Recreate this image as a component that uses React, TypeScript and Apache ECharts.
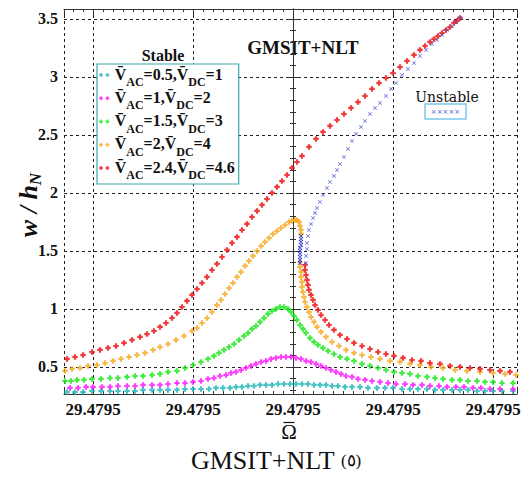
import React, { useEffect, useRef } from "react";
import * as echarts from "echarts";

// Frequency axis: Ω = OMEGA_CENTER + σ·OMEGA_STEP, σ being the detuning in axis units
const OMEGA_CENTER = 29.4795;
const OMEGA_STEP = 1e-5;

const V_AC = [0.5, 1, 1.5, 2, 2.4];
const V_DC = [1, 2, 3, 4, 4.6];
const STABLE_COLORS = ["#1cb4b4", "#ff10ff", "#10e810", "#f5a81c", "#ee0a0a"];
const UNSTABLE_COLOR = "#4455d6";
const UNSTABLE_DENSE_COLOR = "#1e22cc";

// Stable branches, [σ, w/h_N]
const stableAc05: [number, number][] = [
  [-2.26, 0.284], [-2.18, 0.284], [-2.1, 0.284], [-2.01, 0.293], [-1.92, 0.293], [-1.83, 0.293],
  [-1.75, 0.293], [-1.66, 0.293], [-1.58, 0.293], [-1.5, 0.302], [-1.41, 0.302], [-1.33, 0.302],
  [-1.25, 0.302], [-1.16, 0.302], [-1.08, 0.31], [-1.0, 0.31], [-0.92, 0.31], [-0.84, 0.31],
  [-0.77, 0.319], [-0.7, 0.319], [-0.63, 0.319], [-0.57, 0.328], [-0.51, 0.328], [-0.45, 0.336],
  [-0.39, 0.336], [-0.33, 0.345], [-0.27, 0.345], [-0.21, 0.345], [-0.15, 0.353], [-0.09, 0.353],
  [-0.03, 0.353], [0.03, 0.353], [0.09, 0.353], [0.15, 0.353], [0.21, 0.345], [0.27, 0.345],
  [0.33, 0.345], [0.39, 0.336], [0.45, 0.336], [0.52, 0.328], [0.59, 0.328], [0.67, 0.328],
  [0.75, 0.319], [0.84, 0.319], [0.92, 0.319], [1.0, 0.319], [1.09, 0.31], [1.17, 0.31],
  [1.25, 0.31], [1.34, 0.31], [1.42, 0.302], [1.5, 0.302], [1.59, 0.302], [1.67, 0.302],
  [1.75, 0.302], [1.84, 0.293], [1.92, 0.293], [2.0, 0.293], [2.09, 0.293], [2.2, 0.293],
];

const stableAc1: [number, number][] = [
  [-2.23, 0.319], [-2.15, 0.319], [-2.07, 0.328], [-2.0, 0.328], [-1.91, 0.328], [-1.83, 0.328],
  [-1.75, 0.336], [-1.66, 0.336], [-1.58, 0.336], [-1.5, 0.345], [-1.41, 0.345], [-1.33, 0.345],
  [-1.25, 0.353], [-1.16, 0.362], [-1.08, 0.362], [-1.0, 0.371], [-0.92, 0.379], [-0.85, 0.397],
  [-0.79, 0.405], [-0.73, 0.422], [-0.67, 0.431], [-0.62, 0.448], [-0.57, 0.457], [-0.52, 0.474],
  [-0.47, 0.491], [-0.42, 0.509], [-0.37, 0.526], [-0.32, 0.543], [-0.27, 0.552], [-0.22, 0.569],
  [-0.17, 0.578], [-0.12, 0.586], [-0.07, 0.586], [-0.02, 0.586], [0.03, 0.578], [0.08, 0.569],
  [0.13, 0.552], [0.18, 0.543], [0.23, 0.526], [0.28, 0.509], [0.33, 0.491], [0.38, 0.474],
  [0.43, 0.457], [0.48, 0.44], [0.53, 0.422], [0.59, 0.414], [0.65, 0.397], [0.72, 0.388],
  [0.79, 0.379], [0.87, 0.371], [0.95, 0.362], [1.03, 0.353], [1.12, 0.353], [1.2, 0.345],
  [1.29, 0.345], [1.37, 0.336], [1.46, 0.336], [1.54, 0.328], [1.63, 0.328], [1.71, 0.328],
  [1.8, 0.319], [1.88, 0.319], [1.97, 0.31], [2.07, 0.31], [2.2, 0.31],
];

const stableAc15: [number, number][] = [
  [-2.28, 0.379], [-2.22, 0.379], [-2.16, 0.388], [-2.09, 0.388], [-2.01, 0.397], [-1.92, 0.397],
  [-1.83, 0.405], [-1.75, 0.405], [-1.66, 0.414], [-1.58, 0.422], [-1.5, 0.422], [-1.41, 0.431],
  [-1.33, 0.44], [-1.25, 0.457], [-1.16, 0.466], [-1.08, 0.491], [-1.0, 0.517], [-0.92, 0.543],
  [-0.85, 0.569], [-0.79, 0.595], [-0.74, 0.621], [-0.69, 0.647], [-0.64, 0.672], [-0.59, 0.698],
  [-0.54, 0.733], [-0.49, 0.767], [-0.45, 0.793], [-0.41, 0.828], [-0.37, 0.853], [-0.33, 0.888],
  [-0.29, 0.922], [-0.25, 0.957], [-0.21, 0.983], [-0.17, 1.0], [-0.13, 1.017], [-0.09, 1.017],
  [-0.05, 1.0], [-0.02, 0.974], [0.01, 0.94], [0.04, 0.905], [0.07, 0.862], [0.1, 0.828],
  [0.13, 0.793], [0.17, 0.75], [0.21, 0.716], [0.25, 0.69], [0.3, 0.664], [0.35, 0.638],
  [0.41, 0.612], [0.47, 0.586], [0.54, 0.569], [0.61, 0.552], [0.69, 0.526], [0.77, 0.509],
  [0.85, 0.491], [0.93, 0.474], [1.01, 0.457], [1.09, 0.448], [1.17, 0.44], [1.25, 0.422],
  [1.34, 0.414], [1.42, 0.405], [1.5, 0.397], [1.59, 0.388], [1.67, 0.388], [1.75, 0.379],
  [1.84, 0.379], [1.92, 0.371], [2.0, 0.371], [2.09, 0.362], [2.2, 0.362],
];

const stableAc2: [number, number][] = [
  // upper branch up to the fold
  [-2.28, 0.466], [-2.21, 0.483], [-2.13, 0.491], [-2.05, 0.509], [-1.96, 0.517], [-1.88, 0.534],
  [-1.8, 0.552], [-1.72, 0.569], [-1.64, 0.586], [-1.56, 0.603], [-1.48, 0.621], [-1.4, 0.647],
  [-1.33, 0.672], [-1.25, 0.698], [-1.17, 0.733], [-1.09, 0.767], [-1.01, 0.81], [-0.96, 0.836],
  [-0.91, 0.879], [-0.86, 0.922], [-0.81, 0.974], [-0.76, 1.034], [-0.72, 1.078], [-0.68, 1.129],
  [-0.64, 1.181], [-0.6, 1.224], [-0.56, 1.276], [-0.52, 1.319], [-0.48, 1.371], [-0.44, 1.414],
  [-0.4, 1.457], [-0.36, 1.5], [-0.32, 1.543], [-0.28, 1.578], [-0.24, 1.612], [-0.2, 1.647],
  [-0.16, 1.672], [-0.12, 1.698], [-0.08, 1.724], [-0.04, 1.75], [-0.01, 1.759], [0.02, 1.767],
  [0.04, 1.767], [0.06, 1.75], [0.07, 1.716], [0.08, 1.681], [0.08, 1.647],
  // lower branch after the jump
  [0.07, 1.405], [0.07, 1.362], [0.08, 1.319], [0.08, 1.276], [0.09, 1.233], [0.09, 1.19],
  [0.1, 1.147], [0.11, 1.103], [0.12, 1.06], [0.14, 1.017], [0.16, 0.974], [0.18, 0.931],
  [0.21, 0.888], [0.24, 0.845], [0.28, 0.802], [0.33, 0.759], [0.39, 0.716], [0.46, 0.681],
  [0.53, 0.647], [0.61, 0.621], [0.69, 0.603], [0.78, 0.586], [0.87, 0.569], [0.97, 0.552],
  [1.07, 0.543], [1.17, 0.526], [1.27, 0.517], [1.38, 0.5], [1.5, 0.491], [1.62, 0.474],
  [1.74, 0.466], [1.87, 0.457], [2.0, 0.448], [2.12, 0.44], [2.23, 0.431],
];

const stableAc24: [number, number][] = [
  // upper branch
  [-2.26, 0.569], [-2.18, 0.586], [-2.1, 0.603], [-2.01, 0.629], [-1.93, 0.647], [-1.85, 0.664],
  [-1.77, 0.681], [-1.69, 0.707], [-1.61, 0.733], [-1.53, 0.759], [-1.46, 0.784], [-1.39, 0.81],
  [-1.33, 0.845], [-1.27, 0.879], [-1.21, 0.922], [-1.16, 0.966], [-1.11, 1.017], [-1.06, 1.069],
  [-1.01, 1.121], [-0.96, 1.172], [-0.91, 1.224], [-0.86, 1.276], [-0.81, 1.336], [-0.76, 1.388],
  [-0.71, 1.448], [-0.66, 1.509], [-0.61, 1.569], [-0.56, 1.621], [-0.51, 1.681], [-0.46, 1.733],
  [-0.41, 1.793], [-0.36, 1.845], [-0.31, 1.897], [-0.26, 1.948], [-0.21, 2.0], [-0.16, 2.052],
  [-0.11, 2.103], [-0.06, 2.155], [-0.01, 2.216], [0.04, 2.267], [0.09, 2.319], [0.16, 2.397],
  [0.23, 2.466], [0.3, 2.526], [0.37, 2.578], [0.44, 2.629], [0.51, 2.681], [0.58, 2.733],
  [0.65, 2.784], [0.72, 2.836], [0.79, 2.897], [0.86, 2.948], [0.93, 2.991], [1.0, 3.034],
  [1.07, 3.086], [1.14, 3.138], [1.21, 3.19], [1.27, 3.233], [1.32, 3.267], [1.37, 3.302],
  [1.41, 3.328], [1.45, 3.353], [1.49, 3.379], [1.53, 3.405], [1.57, 3.431], [1.61, 3.466],
  [1.64, 3.483], [1.67, 3.509],
  // lower branch
  [0.12, 1.379], [0.12, 1.336], [0.13, 1.293], [0.14, 1.25], [0.15, 1.207], [0.16, 1.164],
  [0.18, 1.121], [0.2, 1.078], [0.22, 1.034], [0.25, 0.991], [0.28, 0.948], [0.32, 0.905],
  [0.36, 0.862], [0.41, 0.819], [0.47, 0.776], [0.54, 0.741], [0.61, 0.707], [0.69, 0.681],
  [0.77, 0.655], [0.85, 0.629], [0.93, 0.612], [1.01, 0.595], [1.1, 0.578], [1.19, 0.56],
  [1.28, 0.552], [1.37, 0.534], [1.47, 0.526], [1.57, 0.509], [1.67, 0.5], [1.77, 0.491],
  [1.87, 0.483], [1.97, 0.474], [2.07, 0.466], [2.17, 0.457],
];

// Unstable branches, [σ, w/h_N]
const unstableAc2: [number, number][] = [
  [0.08, 1.629], [0.08, 1.603], [0.08, 1.578], [0.08, 1.552], [0.07, 1.526],
  [0.07, 1.5], [0.07, 1.474], [0.07, 1.448], [0.07, 1.422], [0.07, 1.397],
];

const unstableAc24: [number, number][] = [
  [0.13, 1.397], [0.13, 1.457], [0.14, 1.517], [0.14, 1.569], [0.15, 1.629], [0.16, 1.681],
  [0.18, 1.733], [0.2, 1.784], [0.22, 1.828], [0.24, 1.871], [0.27, 1.922], [0.3, 1.983],
  [0.34, 2.043], [0.37, 2.095], [0.41, 2.147], [0.44, 2.198], [0.47, 2.25], [0.51, 2.31],
  [0.55, 2.379], [0.59, 2.448], [0.63, 2.509], [0.68, 2.569], [0.72, 2.621], [0.77, 2.681],
  [0.82, 2.733], [0.87, 2.776], [0.93, 2.836], [0.98, 2.897], [1.03, 2.948], [1.09, 3.017],
  [1.15, 3.069], [1.21, 3.121], [1.27, 3.181], [1.33, 3.233], [1.39, 3.284], [1.44, 3.319],
  [1.49, 3.362], [1.54, 3.405], [1.59, 3.44], [1.63, 3.474], [1.67, 3.509],
];

const STABLE_DATA = [stableAc05, stableAc1, stableAc15, stableAc2, stableAc24];

// Heavy plus marker, a pair of them for the legend, and a cross for unstable points
const PLUS = "path://M1.5,0h2v1.5h1.5v2h-1.5v1.5h-2v-1.5h-1.5v-2h1.5z";
const PLUS_PAIR =
  "path://M1.5,0h2v1.5h1.5v2h-1.5v1.5h-2v-1.5h-1.5v-2h1.5zM9.5,0h2v1.5h1.5v2h-1.5v1.5h-2v-1.5h-1.5v-2h1.5z";
const CROSS =
  "path://M0,0.7L0.7,0L2.5,1.8L4.3,0L5,0.7L3.2,2.5L5,4.3L4.3,5L2.5,3.2L0.7,5L0,4.3L1.8,2.5Z";

const SERIF = "'Liberation Serif', 'Times New Roman', serif";
const BAR = "\u0304";

const X_MIN = -2.29;
const X_MAX = 2.24;
const Y_MIN = 0.267;
const Y_MAX = 3.586;

export default function App() {
  const ref = useRef<HTMLDivElement>(null);

  useEffect(() => {
    if (!ref.current) return;
    const chart = echarts.init(ref.current, undefined, { renderer: "svg" });

    const names = V_AC.map((ac, i) => `VAC=${ac}, VDC=${V_DC[i]}`);

    const axisLine = { show: true, lineStyle: { color: "#333", width: 1 } };
    const tick = { show: true, inside: true, length: 6, lineStyle: { color: "#333" } };

    const stableSeries = STABLE_DATA.map((data, i) => ({
      name: names[i],
      type: "scatter",
      data,
      symbol: PLUS,
      symbolSize: 5.5,
      itemStyle: { color: STABLE_COLORS[i] },
      z: 2,
    }));

    const option = {
      animation: false,
      backgroundColor: "#fff",
      grid: { left: 64, right: 7, top: 9, bottom: 85 },
      xAxis: [
        {
          type: "value",
          min: X_MIN,
          max: X_MAX,
          splitNumber: 5,
          position: "bottom",
          axisLine,
          axisTick: tick,
          minorTick: { show: true, splitNumber: 10, length: 3, lineStyle: { color: "#333" } },
          splitLine: { show: true, lineStyle: { type: [3, 3], color: "#222", width: 1 } },
          axisLabel: {
            formatter: (v: number) => (OMEGA_CENTER + v * OMEGA_STEP).toFixed(4),
            fontFamily: SERIF,
            fontWeight: "bold",
            fontSize: 17,
            color: "#111",
            margin: 7,
            showMinLabel: false,
            showMaxLabel: false,
          },
        },
        {
          type: "value",
          min: X_MIN,
          max: X_MAX,
          splitNumber: 5,
          position: "top",
          axisLine,
          axisTick: tick,
          minorTick: { show: true, splitNumber: 10, length: 3, lineStyle: { color: "#333" } },
          splitLine: { show: false },
          axisLabel: { show: false },
        },
      ],
      yAxis: [
        {
          type: "value",
          min: Y_MIN,
          max: Y_MAX,
          splitNumber: 5,
          position: "left",
          axisLine,
          axisTick: tick,
          minorTick: { show: true, splitNumber: 5, length: 3, lineStyle: { color: "#333" } },
          splitLine: { show: true, lineStyle: { type: [3, 3], color: "#222", width: 1 } },
          axisLabel: {
            fontFamily: SERIF,
            fontWeight: "bold",
            fontSize: 16,
            color: "#111",
            margin: 6,
            showMinLabel: false,
            showMaxLabel: false,
          },
        },
        {
          type: "value",
          min: Y_MIN,
          max: Y_MAX,
          splitNumber: 5,
          position: "right",
          axisLine,
          axisTick: tick,
          minorTick: { show: true, splitNumber: 5, length: 3, lineStyle: { color: "#333" } },
          splitLine: { show: false },
          axisLabel: { show: false },
        },
      ],
      legend: {
        orient: "vertical",
        left: 97,
        top: 64,
        data: names,
        icon: PLUS_PAIR,
        itemWidth: 11,
        itemHeight: 4,
        itemGap: 1.25,
        padding: [2, 4, 3, 2],
        borderColor: "#3aa8a8",
        borderWidth: 1.2,
        backgroundColor: "#fff",
        selectedMode: false,
        formatter: (name: string) => {
          const i = names.indexOf(name);
          return `{v|V${BAR}}{s|AC}{v|=${V_AC[i]},V${BAR}}{s|DC}{v|=${V_DC[i]}}`;
        },
        textStyle: {
          rich: {
            v: {
              fontFamily: SERIF,
              fontWeight: "bold",
              fontSize: 16,
              lineHeight: 18,
              verticalAlign: "top",
              color: "#111",
            },
            s: {
              fontFamily: SERIF,
              fontWeight: "bold",
              fontSize: 12,
              lineHeight: 13,
              padding: [10, 0, 0, 0],
              verticalAlign: "top",
              color: "#111",
            },
          },
        },
      },
      graphic: [
        {
          type: "text",
          x: 163,
          y: 55,
          style: {
            text: "Stable",
            font: `bold 16px ${SERIF}`,
            fill: "#111",
            textAlign: "center",
            textVerticalAlign: "middle",
          },
        },
        {
          type: "text",
          x: 303,
          y: 47,
          style: {
            text: "GMSIT+NLT",
            font: `bold 19px ${SERIF}`,
            fill: "#111",
            textAlign: "center",
            textVerticalAlign: "middle",
          },
        },
        {
          type: "text",
          x: 447,
          y: 97,
          style: {
            text: "Unstable",
            font: "14px 'DejaVu Serif', serif",
            fill: "#111",
            textAlign: "center",
            textVerticalAlign: "middle",
          },
        },
        {
          type: "rect",
          shape: { x: 425, y: 104, width: 41, height: 15 },
          style: { fill: "#fff", stroke: "#7cc8ee", lineWidth: 1.5 },
        },
        {
          type: "text",
          x: 445.5,
          y: 111.5,
          style: {
            text: "\u00d7\u00d7\u00d7\u00d7\u00d7",
            font: "7px 'DejaVu Sans', sans-serif",
            fill: UNSTABLE_COLOR,
            textAlign: "center",
            textVerticalAlign: "middle",
          },
        },
        // x-axis symbol: Ω with an overbar
        {
          type: "text",
          x: 289,
          y: 432,
          style: {
            text: "\u03A9",
            font: `21px ${SERIF}`,
            fill: "#111",
            textAlign: "center",
            textVerticalAlign: "middle",
          },
        },
        {
          type: "line",
          shape: { x1: 283.5, y1: 422.5, x2: 294.5, y2: 422.5 },
          style: { stroke: "#111", lineWidth: 1.2 },
        },
        {
          type: "text",
          x: 276,
          y: 461,
          style: {
            text: "{c|GMSIT+NLT }{p|(\u0665)}",
            textAlign: "center",
            textVerticalAlign: "middle",
            rich: {
              c: { fontFamily: SERIF, fontSize: 26, lineHeight: 28, verticalAlign: "top", fill: "#111" },
              p: {
                fontFamily: SERIF,
                fontSize: 17,
                lineHeight: 19,
                padding: [5, 0, 0, 0],
                verticalAlign: "top",
                fill: "#111",
              },
            },
          },
        },
        {
          type: "text",
          x: 28,
          y: 205,
          rotation: Math.PI / 2,
          style: {
            text: "{m|w / h}{s|N}",
            textAlign: "center",
            textVerticalAlign: "middle",
            rich: {
              m: {
                fontFamily: SERIF,
                fontWeight: "bold",
                fontStyle: "italic",
                fontSize: 26,
                lineHeight: 26,
                verticalAlign: "top",
                fill: "#111",
              },
              s: {
                fontFamily: SERIF,
                fontWeight: "bold",
                fontStyle: "italic",
                fontSize: 17,
                lineHeight: 18,
                padding: [12, 0, 0, 0],
                verticalAlign: "top",
                fill: "#111",
              },
            },
          },
        },
      ],
      series: [
        ...stableSeries,
        {
          name: "Unstable",
          type: "scatter",
          data: unstableAc24,
          symbol: CROSS,
          symbolSize: 4,
          itemStyle: { color: UNSTABLE_COLOR },
          z: 3,
        },
        {
          name: "Unstable",
          type: "scatter",
          data: unstableAc2,
          symbol: CROSS,
          symbolSize: 4.5,
          itemStyle: { color: UNSTABLE_DENSE_COLOR },
          z: 3,
        },
      ],
    };

    chart.setOption(option as any);
    return () => chart.dispose();
  }, []);

  return (
    <div
      ref={ref}
      style={{ position: "fixed", left: 0, top: 0, width: 524, height: 479, background: "#fff" }}
    />
  );
}
